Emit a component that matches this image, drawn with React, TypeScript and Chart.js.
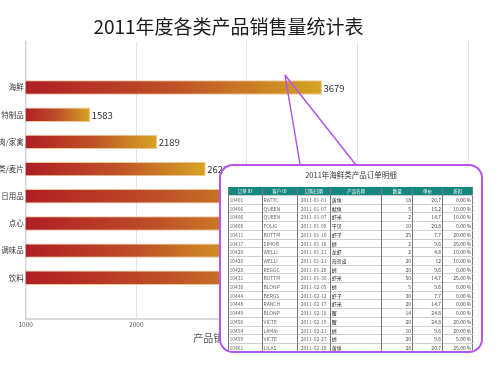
import React, { useEffect, useRef } from 'react';
import { Chart, registerables } from 'chart.js';

Chart.register(...registerables);

// ---------- chart data ----------
const chartTitle = '2011年度各类产品销售量统计表';
const xAxisTitle = '产品销售量';
const categories = ['海鲜', '特制品', '肉/家禽', '谷类/麦片', '日用品', '点心', '调味品', '饮料'];
const sales = [3679, 1583, 2189, 2628, 3500, 3400, 3050, 3600];
const xTickValues = [1000, 2000, 3000, 4000, 5000];

// ---------- detail table data ----------
const detailTitle = '2011年海鲜类产品订单明细';
const detailHeaders = ['订单 ID', '客户 ID', '订购日期', '产品名称', '数量', '单价', '折扣'];
const orderIds = ['10401', '10406', '10406', '10408', '10411', '10417', '10420', '10420', '10428', '10431', '10436', '10444', '10448', '10449', '10450', '10454', '10459', '10461'];
const customerIds = ['RATTC', 'QUEEN', 'QUEEN', 'FOLIG', 'BOTTM', 'SIMOB', 'WELLI', 'WELLI', 'REGGC', 'BOTTM', 'BLONP', 'BERGS', 'RANCH', 'BLONP', 'VICTE', 'LAMAI', 'VICTE', 'LILAS'];
const orderDates = ['2011-01-01', '2011-01-07', '2011-01-07', '2011-01-08', '2011-01-10', '2011-01-16', '2011-01-21', '2011-01-21', '2011-01-28', '2011-01-30', '2011-02-05', '2011-02-12', '2011-02-17', '2011-02-18', '2011-02-19', '2011-02-21', '2011-02-27', '2011-02-28'];
const productNames = ['黄鱼', '鱿鱼', '虾米', '干贝', '虾子', '蚵', '龙虾', '海哲皮', '蚵', '虾米', '蚵', '虾子', '虾米', '蟹', '蟹', '蚵', '蚵', '黄鱼'];
const quantities = [18, 5, 2, 10, 25, 2, 2, 20, 20, 50, 5, 30, 20, 14, 20, 10, 20, 28];
const unitPrices = ['20.7', '15.2', '14.7', '20.8', '7.7', '9.6', '4.8', '12', '9.6', '14.7', '9.6', '7.7', '14.7', '24.8', '24.8', '9.6', '9.6', '20.7'];
const discounts = ['0.00 %', '10.00 %', '10.00 %', '0.00 %', '20.00 %', '25.00 %', '10.00 %', '10.00 %', '0.00 %', '25.00 %', '0.00 %', '0.00 %', '0.00 %', '0.00 %', '20.00 %', '20.00 %', '5.00 %', '25.00 %'];

const FONT = '"Noto Sans CJK SC", "Noto Sans", sans-serif';
const PURPLE = '#B455F2';
const CANVAS_LEFT = -11;
const CANVAS_W = 500 - CANVAS_LEFT;

const barGradient = (ctx: any) => {
  const chart = ctx.chart;
  const area = chart.chartArea;
  if (!area || ctx.type !== 'data' || !ctx.parsed) return '#C0502A';
  const xs = chart.scales.x;
  const x0 = xs.getPixelForValue(xs.min);
  const x1 = xs.getPixelForValue(ctx.parsed.x);
  const g = chart.ctx.createLinearGradient(x0, 0, Math.max(x1, x0 + 1), 0);
  g.addColorStop(0, '#B01E24');
  g.addColorStop(0.5, '#BE5127');
  g.addColorStop(1, '#D5A523');
  return g;
};

const valueLabels = {
  id: 'valueLabels',
  afterDatasetsDraw(chart: any) {
    const ctx = chart.ctx;
    const meta = chart.getDatasetMeta(0);
    ctx.save();
    ctx.font = `9.5px ${FONT}`;
    ctx.fillStyle = '#333';
    ctx.textAlign = 'left';
    ctx.textBaseline = 'middle';
    meta.data.forEach((el: any, i: number) => {
      ctx.fillText(String(sales[i]), el.x + 1.5, el.y + 0.5);
    });
    ctx.restore();
  },
};

const axisTitle = {
  id: 'axisTitle',
  afterDraw(chart: any) {
    const ctx = chart.ctx;
    const xs = chart.scales.x;
    ctx.save();
    ctx.font = `10px ${FONT}`;
    ctx.fillStyle = '#555';
    ctx.textAlign = 'left';
    ctx.textBaseline = 'middle';
    ctx.fillText(xAxisTitle, xs.getPixelForValue(2515), xs.bottom - 28);
    ctx.restore();
  },
};

function ChartCanvas() {
  const ref = useRef<HTMLCanvasElement | null>(null);
  useEffect(() => {
    if (!ref.current) return;
    const chart = new Chart(ref.current, {
      type: 'bar',
      data: {
        datasets: [
          {
            data: categories.map((c, i) => ({ x: sales[i], y: i })),
            backgroundColor: barGradient,
            borderColor: 'rgba(236,192,140,0.9)',
            borderWidth: 1,
            categoryPercentage: 1,
            barPercentage: 0.53,
          },
        ],
      },
      options: {
        indexAxis: 'y',
        responsive: false,
        animation: false,
        layout: { padding: { left: 0, right: 32, top: 0, bottom: 0 } },
        plugins: {
          legend: { display: false },
          tooltip: { enabled: false },
          title: {
            display: true,
            text: chartTitle,
            color: '#1c1c1c',
            font: { size: 19, family: FONT, weight: 'normal' },
            padding: { top: 15.6, bottom: 3.6 },
          },
        },
        scales: {
          x: {
            type: 'linear',
            position: 'bottom',
            min: xTickValues[0],
            max: xTickValues[xTickValues.length - 1],
            afterFit: (s: any) => {
              s.height = 47;
            },
            afterBuildTicks: (s: any) => {
              s.ticks = xTickValues.map((v) => ({ value: v }));
            },
            grid: { color: '#e4e4e4', lineWidth: 1, drawTicks: false },
            border: { color: '#d8d8d8', width: 2 },
            ticks: {
              color: '#555',
              padding: 2,
              font: { size: 6.5, family: FONT },
              callback: (v: any) => String(v),
            },
          },
          y: {
            type: 'linear',
            reverse: true,
            min: -1.11,
            max: 7.95,
            afterFit: (s: any) => {
              s.width = 36.7;
            },
            grid: { display: false, drawTicks: false },
            border: { display: true, color: '#d4d4d4', width: 1.5 },
            ticks: {
              stepSize: 1,
              autoSkip: false,
              includeBounds: false,
              padding: 2,
              color: '#333',
              font: { size: 7.5, family: FONT },
              callback: (v: any) => (Number.isInteger(v) && categories[v] ? categories[v] : ''),
            },
          },
        },
      } as any,
      plugins: [valueLabels, axisTitle],
    });
    return () => chart.destroy();
  }, []);
  return (
    <canvas
      ref={ref}
      width={CANVAS_W}
      height={366}
      style={{ position: 'absolute', left: CANVAS_LEFT, top: 0 }}
    />
  );
}

const colWidths = [34, 35, 33.3, 51.7, 30.6, 30, 30.4];

function DetailTable() {
  const cell: React.CSSProperties = {
    padding: '0 1px',
    height: 7.7,
    lineHeight: '7.7px',
    fontSize: 5,
    color: '#444',
    whiteSpace: 'nowrap',
    overflow: 'hidden',
    borderTop: '1px solid #cfcfcf',
    borderLeft: '1px solid #7a7a7a',
    fontFamily: FONT,
  };
  const head: React.CSSProperties = {
    ...cell,
    background: '#14877E',
    color: '#fff',
    textAlign: 'center',
    height: 7.5,
    lineHeight: '7.5px',
    fontSize: 4.5,
    borderTop: '1px solid #14877E',
  };
  return (
    <div
      style={{
        position: 'absolute',
        left: 219,
        top: 164,
        width: 264,
        height: 189,
        boxSizing: 'border-box',
        border: `2px solid ${PURPLE}`,
        borderRadius: 14,
        background: '#fff',
        overflow: 'hidden',
      }}
    >
      <div
        style={{
          position: 'absolute',
          left: 0,
          right: 0,
          top: 4,
          textAlign: 'center',
          fontSize: 7.5,
          lineHeight: '10px',
          color: '#333',
          fontFamily: FONT,
        }}
      >
        {detailTitle}
      </div>
      <table
        style={{
          position: 'absolute',
          left: 6.5,
          top: 20.5,
          width: 245,
          borderCollapse: 'collapse',
          tableLayout: 'fixed',
          borderRight: '1px solid #7a7a7a',
          borderBottom: '1px solid #cfcfcf',
        }}
      >
        <colgroup>
          {colWidths.map((w, i) => (
            <col key={i} style={{ width: w }} />
          ))}
        </colgroup>
        <thead>
          <tr>
            {detailHeaders.map((h) => (
              <th key={h} style={{ ...head, fontWeight: 'normal' }}>
                {h}
              </th>
            ))}
          </tr>
        </thead>
        <tbody>
          {orderIds.map((id, i) => (
            <tr key={i}>
              <td style={{ ...cell, color: '#666' }}>{id}</td>
              <td style={{ ...cell, color: '#666' }}>{customerIds[i]}</td>
              <td style={{ ...cell, color: '#666', textAlign: 'center' }}>{orderDates[i]}</td>
              <td style={{ ...cell, color: '#222' }}>{productNames[i]}</td>
              <td style={{ ...cell, textAlign: 'right' }}>{quantities[i]}</td>
              <td style={{ ...cell, textAlign: 'right' }}>{unitPrices[i]}</td>
              <td style={{ ...cell, textAlign: 'right' }}>{discounts[i]}</td>
            </tr>
          ))}
        </tbody>
      </table>
    </div>
  );
}

export default function App() {
  return (
    <div
      style={{
        position: 'fixed',
        left: 0,
        top: 0,
        width: 500,
        height: 366,
        overflow: 'hidden',
        background: '#fff',
      }}
    >
      <ChartCanvas />
      <svg
        width={500}
        height={366}
        style={{ position: 'absolute', left: 0, top: 0, pointerEvents: 'none' }}
      >
        <polyline points="301,170 285,75 360,170" fill="none" stroke={PURPLE} strokeWidth={1.5} />
      </svg>
      <DetailTable />
    </div>
  );
}
